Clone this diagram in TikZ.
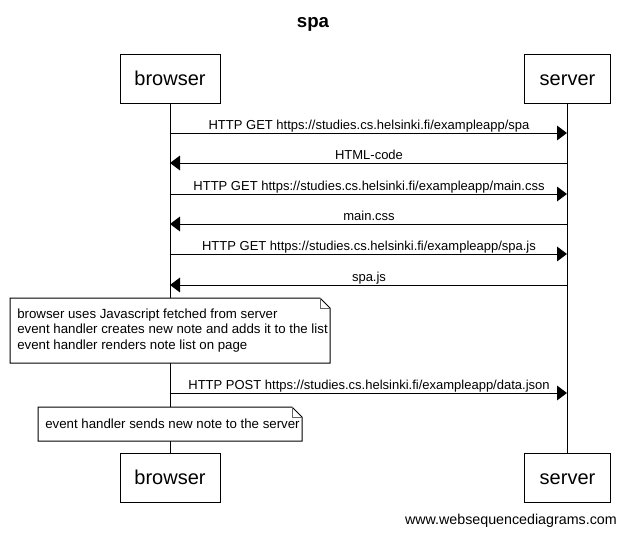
\documentclass[tikz,border=0pt]{standalone}
\usepackage{fontspec}
\setmainfont{Liberation Sans}
\usetikzlibrary{arrows.meta}
\begin{document}
\begin{tikzpicture}[x=0.75pt,y=-0.75pt,
  actor/.style={draw,line width=0.75pt,minimum width=75pt,minimum height=36.75pt,inner sep=0pt,text height=11pt,text depth=0pt,font=\fontsize{15}{18}\selectfont},
  msg/.style={line width=0.75pt,-{Triangle[length=7.5pt,width=11pt]}},
  lbl/.style={font=\fontsize{9.75}{11}\selectfont,inner sep=0pt,anchor=base},
  life/.style={line width=0.75pt},
  notetxt/.style={font=\fontsize{9.95}{11.6}\selectfont,align=left,anchor=west,inner sep=0pt}]
\useasboundingbox (0,0) rectangle (625,536);
\fill[white] (0,0) rectangle (625,536);
\node[font=\bfseries\fontsize{14}{16}\selectfont] (title) at (313,24) {spa};
% actors
\node[actor] (bt) at (170,78.5) {browser};
\node[actor,minimum width=65pt] (st) at (567.5,78.5) {server};
\node[actor] (bb) at (170,477.5) {browser};
\node[actor,minimum width=65pt] (sb) at (567.5,477.5) {server};
% lifelines
\draw[life] (bt.south) -- (bb.north);
\draw[life] (st.south) -- (sb.north);
% messages
\coordinate (b1) at (170,133); \coordinate (s1) at (567,133);
\coordinate (b2) at (170,163); \coordinate (s2) at (567,163);
\coordinate (b3) at (170,194); \coordinate (s3) at (567,194);
\coordinate (b4) at (170,224); \coordinate (s4) at (567,224);
\coordinate (b5) at (170,254); \coordinate (s5) at (567,254);
\coordinate (b6) at (170,285); \coordinate (s6) at (567,285);
\coordinate (b7) at (170,393); \coordinate (s7) at (567,393);
\draw[msg] (b1) -- (s1);
\node[lbl] (l1) at (369,129) {HTTP GET https://studies.cs.helsinki.fi/exampleapp/spa};
\draw[msg] (s2) -- (b2);
\node[lbl] (l2) at (369,159) {HTML-code};
\draw[msg] (b3) -- (s3);
\node[lbl] (l3) at (369,190) {HTTP GET https://studies.cs.helsinki.fi/exampleapp/main.css};
\draw[msg] (s4) -- (b4);
\node[lbl] (l4) at (369,220) {main.css};
\draw[msg] (b5) -- (s5);
\node[lbl] (l5) at (369,250) {HTTP GET https://studies.cs.helsinki.fi/exampleapp/spa.js};
\draw[msg] (s6) -- (b6);
\node[lbl] (l6) at (369,281) {spa.js};
\draw[msg] (b7) -- (s7);
\node[lbl] (l7) at (369,389) {HTTP POST https://studies.cs.helsinki.fi/exampleapp/data.json};
% note 1
\draw[fill=white,line width=0.75pt] (10,298) -- (320,298) -- (330,308) -- (330,363) -- (10,363) -- cycle;
\draw[line width=0.5pt,draw=black!60] (320,298) -- (320,308) -- (330,308);
\node[notetxt] (n1) at (17,330.5) {browser uses Javascript fetched from server\\event handler creates new note and adds it to the list\\event handler renders note list on page};
% note 2
\draw[fill=white,line width=0.75pt] (38,407) -- (292,407) -- (302,417) -- (302,441) -- (38,441) -- cycle;
\draw[line width=0.5pt,draw=black!60] (292,407) -- (292,417) -- (302,417);
\node[notetxt] (n2) at (45,424) {event handler sends new note to the server};
% footer
\node[font=\fontsize{10.7}{12}\selectfont,anchor=east,inner sep=0pt] (web) at (617,521) {www.websequencediagrams.com};
\end{tikzpicture}
\end{document}
